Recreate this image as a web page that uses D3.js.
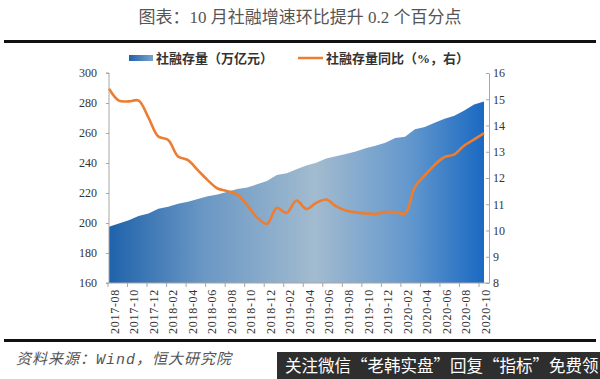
<!DOCTYPE html>
<html><head><meta charset="utf-8">
<script src="https://cdn.jsdelivr.net/npm/d3@7/dist/d3.min.js"></script>
<style>body{margin:0;background:#fff;overflow:hidden}</style>
</head><body><svg id="c" width="600" height="379"></svg>
<script>
const months = ["2017-08","2017-09","2017-10","2017-11","2017-12",
  "2018-01","2018-02","2018-03","2018-04","2018-05","2018-06","2018-07","2018-08","2018-09","2018-10","2018-11","2018-12",
  "2019-01","2019-02","2019-03","2019-04","2019-05","2019-06","2019-07","2019-08","2019-09","2019-10","2019-11","2019-12",
  "2020-01","2020-02","2020-03","2020-04","2020-05","2020-06","2020-07","2020-08","2020-09","2020-10"];
const stock = [197.5,199.6,201.8,204.6,206.3,
  209.5,210.9,212.8,214.2,216.0,217.8,219.0,220.9,222.6,223.6,225.8,228.0,
  232.0,233.2,235.8,238.3,240.2,243.0,244.5,246.0,247.6,249.8,251.5,253.5,
  256.7,257.5,262.5,264.0,266.8,269.5,271.5,275.0,279.0,281.0];
const growth = [15.4,14.95,14.92,14.95,14.3,
  13.58,13.45,12.82,12.68,12.3,11.92,11.6,11.5,11.37,10.97,10.5,10.25,
  10.86,10.67,11.14,10.82,11.05,11.18,10.93,10.76,10.69,10.65,10.63,10.7,
  10.7,10.65,11.66,12.1,12.5,12.8,12.9,13.24,13.47,13.71];
const xLabels = ["2017-08","2017-10","2017-12","2018-02","2018-04","2018-06","2018-08","2018-10","2018-12",
  "2019-02","2019-04","2019-06","2019-08","2019-10","2019-12","2020-02","2020-04","2020-06","2020-08","2020-10"];
const leftTicks = [160,180,200,220,240,260,280,300];
const rightTicks = [8,9,10,11,12,13,14,15,16];
const titleText = "图表：10 月社融增速环比提升 0.2 个百分点";
const legendNames = ["社融存量（万亿元）","社融存量同比（%，右）"];
const sourceText = "资料来源：Wind，恒大研究院";
const bannerText = "关注微信“老韩实盘”回复“指标”免费领";

const svg = d3.select("#c");
const serif = "'Liberation Serif','Times New Roman',serif";
const cjk = "'Liberation Serif','Noto Sans CJK SC',serif";

const x = d3.scalePoint().domain(months).range([109,484]);
const xt = d3.scalePoint().domain(xLabels).range([108,479]);
const yL = d3.scaleLinear().domain([160,300]).range([283,73]);
const yR = d3.scaleLinear().domain([8,16]).range([283,73]);

const defs = svg.append("defs");
const g1 = defs.append("linearGradient").attr("id","ag").attr("gradientUnits","userSpaceOnUse")
  .attr("x1",109).attr("x2",484).attr("y1",0).attr("y2",0);
[[0,"#1f62ab"],[0.25,"#6a97c4"],[0.55,"#a2bbcf"],[0.8,"#6498cd"],[1,"#1a69c2"]]
  .forEach(s=>g1.append("stop").attr("offset",s[0]).attr("stop-color",s[1]));
const g2 = defs.append("linearGradient").attr("id","lg").attr("x1",0).attr("x2",1);
[[0,"#1f62ab"],[1,"#7aa3cc"]].forEach(s=>g2.append("stop").attr("offset",s[0]).attr("stop-color",s[1]));

// title
svg.append("text").attr("x",300).attr("y",23).attr("text-anchor","middle")
  .attr("font-family",cjk).attr("font-size",17).attr("fill","#555").text(titleText);
svg.append("rect").attr("x",4).attr("y",40).attr("width",592).attr("height",3).attr("fill","#111");
svg.append("rect").attr("x",4).attr("y",339).attr("width",592).attr("height",3).attr("fill","#111");

// legend
svg.append("rect").attr("x",129).attr("y",55).attr("width",24).attr("height",6).attr("fill","url(#lg)");
svg.append("text").attr("x",156).attr("y",63).attr("font-family",cjk).attr("font-size",13)
  .attr("fill","#333").attr("font-weight","bold").text(legendNames[0]);
svg.append("line").attr("x1",298).attr("x2",323).attr("y1",58).attr("y2",58)
  .attr("stroke","#ED7D31").attr("stroke-width",2.5);
svg.append("text").attr("x",326).attr("y",63).attr("font-family",cjk).attr("font-size",13)
  .attr("fill","#333").attr("font-weight","bold").text(legendNames[1]);

// area
const area = d3.area().x((d,i)=>x(months[i])).y0(yL(160)).y1(d=>yL(d));
svg.append("path").datum(stock).attr("d",area).attr("fill","url(#ag)");

// line
const line = d3.line().x((d,i)=>x(months[i])).y(d=>yR(d)).curve(d3.curveCatmullRom.alpha(0.5));
svg.append("path").datum(growth).attr("d",line).attr("fill","none")
  .attr("stroke","#ED7D31").attr("stroke-width",2.6).attr("stroke-linejoin","round");

// axes
const axL = svg.append("g").attr("transform","translate(109,0)")
  .call(d3.axisLeft(yL).tickValues(leftTicks).tickSize(3).tickPadding(9));
const axR = svg.append("g").attr("transform","translate(489,0)")
  .call(d3.axisRight(yR).tickValues(rightTicks).tickSizeInner(-3).tickSizeOuter(0).tickPadding(4));
[axL,axR].forEach(a=>{
  a.select(".domain").attr("stroke","#a6a6a6");
  a.selectAll(".tick line").attr("stroke","#a6a6a6");
  a.selectAll("text").attr("font-family",serif).attr("font-size",12).attr("fill","#333");
});
axL.select(".domain").attr("d","M-3,73H0V283H-3");

const axB = svg.append("g");
axB.append("line").attr("x1",109).attr("x2",489).attr("y1",283).attr("y2",283).attr("stroke","#a6a6a6");
axB.selectAll(".tk").data(xLabels).enter().append("line")
  .attr("x1",d=>xt(d)).attr("x2",d=>xt(d)).attr("y1",283).attr("y2",287).attr("stroke","#a6a6a6");
axB.selectAll(".lb").data(xLabels).enter().append("text")
  .attr("transform",d=>`translate(${xt(d)+6.5},289) rotate(-90)`)
  .attr("text-anchor","end").attr("dy","0.35em")
  .attr("font-family",serif).attr("font-size",12).attr("letter-spacing",0.7).attr("fill","#333").text(d=>d);

// footer
svg.append("text").attr("x",16).attr("y",364).attr("font-family","'Liberation Mono','Noto Sans CJK SC',monospace")
  .attr("font-style","italic").attr("font-size",15).attr("letter-spacing",1).attr("fill","#555").text(sourceText);
svg.append("rect").attr("x",277).attr("y",352).attr("width",323).attr("height",27).attr("fill","#2e2e2e");
svg.append("text").attr("x",285).attr("y",372).attr("font-family","'Noto Sans CJK SC',sans-serif")
  .attr("font-size",16.5).attr("fill","#fff").text(bannerText);
</script></body></html>
